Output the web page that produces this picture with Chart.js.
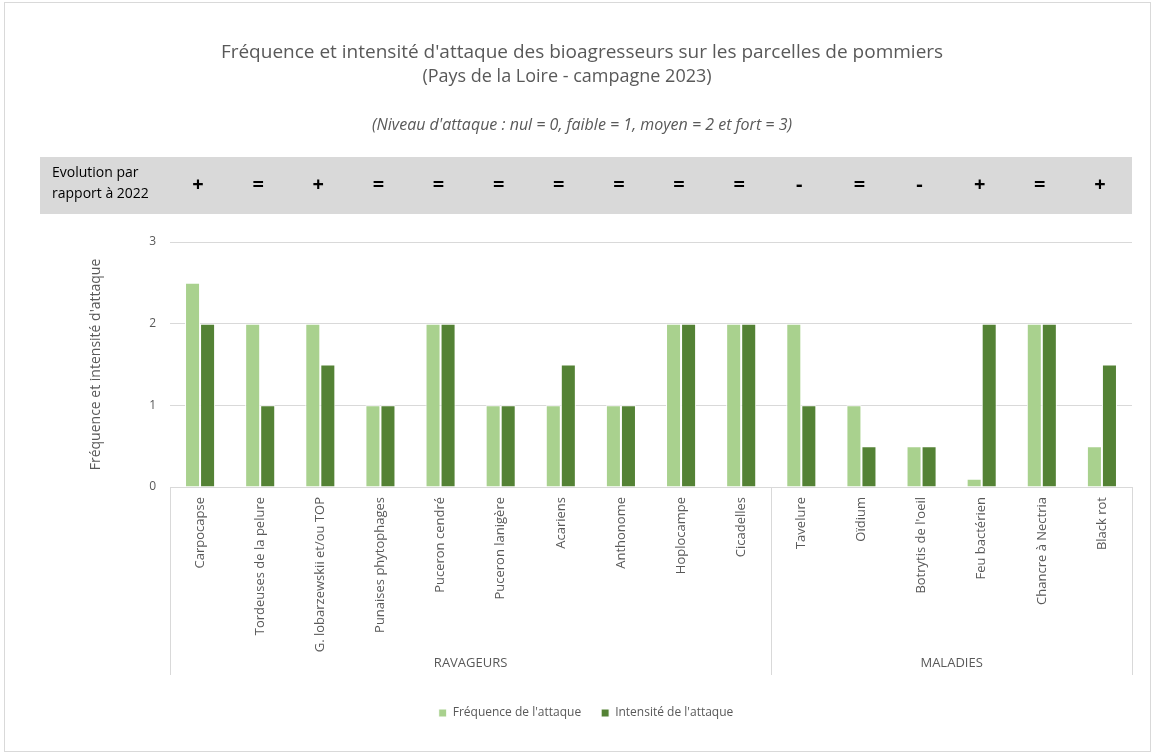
<!DOCTYPE html>
<html>
<head>
<meta charset="utf-8">
<script src="https://cdn.jsdelivr.net/npm/chart.js@4"></script>
<style>
  body { margin: 0; background: #fff; }
  #wrap { width: 1154px; height: 754px; }
</style>
</head>
<body>
<div id="wrap"><canvas id="myChart" width="1154" height="754"></canvas></div>
<script>
const categories = [
    'Carpocapse', 'Tordeuses de la pelure', 'G. lobarzewskii et/ou TOP', 'Punaises phytophages',
    'Puceron cendré', 'Puceron lanigère', 'Acariens', 'Anthonome', 'Hoplocampe', 'Cicadelles',
    'Tavelure', 'Oïdium', "Botrytis de l'oeil", 'Feu bactérien', 'Chancre à Nectria', 'Black rot'
];
const frequence = [2.5, 2, 2, 1, 2, 1, 1, 1, 2, 2, 2, 1, 0.5, 0.1, 2, 0.5];
const intensite = [2, 1, 1.5, 1, 2, 1, 1.5, 1, 2, 2, 1, 0.5, 0.5, 2, 2, 1.5];
const evolution = ['+', '=', '+', '=', '=', '=', '=', '=', '=', '=', '-', '=', '-', '+', '=', '+'];
const groups = [
    { label: 'RAVAGEURS', from: 0, to: 9 },
    { label: 'MALADIES', from: 10, to: 15 }
];
const yTicks = [0, 1, 2, 3];

const FONT = "'Open Sans', sans-serif";
const GREY_TEXT = '#595959';
const GRID = '#d9d9d9';

// titles, evolution band and group labels under the axis
const extras = {
    id: 'extras',
    beforeDraw(chart) {
        const ctx = chart.ctx;
        const x = chart.scales.x;
        const area = chart.chartArea;
        ctx.save();
        // outer border
        ctx.strokeStyle = GRID;
        ctx.lineWidth = 1;
        ctx.strokeRect(4.5, 2.5, chart.width - 8, chart.height - 5);

        ctx.fillStyle = GREY_TEXT;
        ctx.textAlign = 'center';
        ctx.textBaseline = 'middle';
        ctx.font = '19px ' + FONT;
        ctx.fillText("Fréquence et intensité d'attaque des bioagresseurs sur les parcelles de pommiers", 582, 53);
        ctx.font = '18px ' + FONT;
        ctx.fillText('(Pays de la Loire - campagne 2023)', 567, 77);
        ctx.font = 'italic 16px ' + FONT;
        ctx.fillText("(Niveau d'attaque : nul = 0, faible = 1, moyen = 2 et fort = 3)", 582, 125);

        // band
        ctx.fillStyle = '#d9d9d9';
        ctx.fillRect(40, 157, area.right - 40, 57);
        ctx.fillStyle = '#000';
        ctx.textAlign = 'left';
        ctx.font = '14px ' + FONT;
        ctx.fillText('Evolution par', 52, 173);
        ctx.fillText('rapport à 2022', 52, 194);
        ctx.textAlign = 'center';
        ctx.font = 'bold 20px ' + FONT;
        evolution.forEach((s, i) => {
            ctx.fillText(s, x.getPixelForValue(i) - 2, 185);
        });

        // group separators and labels
        const half = (x.getPixelForValue(1) - x.getPixelForValue(0)) / 2;
        const bottom = 675;
        ctx.strokeStyle = GRID;
        ctx.beginPath();
        const edges = [x.getPixelForValue(0) - half];
        groups.forEach(g => edges.push(x.getPixelForValue(g.to) + half));
        edges.forEach(e => {
            const px = Math.round(e) + 0.5;
            ctx.moveTo(px, area.bottom);
            ctx.lineTo(px, bottom);
        });
        ctx.stroke();
        ctx.fillStyle = GREY_TEXT;
        ctx.font = '13px ' + FONT;
        groups.forEach(g => {
            const cx = (x.getPixelForValue(g.from) + x.getPixelForValue(g.to)) / 2;
            ctx.fillText(g.label, cx, 663);
        });
        ctx.restore();
    }
};

const ctx = document.getElementById('myChart').getContext('2d');
const chart = new Chart(ctx, {
    type: 'bar',
    data: {
        labels: categories,
        datasets: [
            {
                label: "Fréquence de l'attaque",
                data: frequence,
                backgroundColor: '#a9d18e',
                borderColor: '#ffffff',
                borderWidth: 1
            },
            {
                label: "Intensité de l'attaque",
                data: intensite,
                backgroundColor: '#548235',
                borderColor: '#ffffff',
                borderWidth: 1
            }
        ]
    },
    options: {
        responsive: false,
        animation: false,
        categoryPercentage: 0.5,
        barPercentage: 1,
        layout: { padding: { top: 242, left: 40, right: 22, bottom: 25 } },
        font: { family: FONT },
        plugins: {
            legend: {
                position: 'bottom',
                labels: {
                    boxWidth: 8,
                    boxHeight: 8,
                    color: GREY_TEXT,
                    font: { family: FONT, size: 12 },
                    padding: 20
                }
            },
            tooltip: { enabled: false }
        },
        scales: {
            x: {
                grid: { display: false },
                border: { color: GRID },
                ticks: {
                    minRotation: 90,
                    maxRotation: 90,
                    color: GREY_TEXT,
                    font: { family: FONT, size: 13 },
                    padding: 2
                },
                afterFit(scale) { scale.height = 200; }
            },
            y: {
                min: 0,
                max: 3,
                afterBuildTicks(scale) { scale.ticks = yTicks.map(v => ({ value: v })); },
                grid: { color: GRID, drawTicks: false },
                border: { display: false },
                ticks: {
                    color: GREY_TEXT,
                    font: { family: FONT, size: 12 },
                    padding: 14
                },
                title: {
                    display: true,
                    text: "Fréquence et intensité d'attaque",
                    color: GREY_TEXT,
                    font: { family: FONT, size: 14 },
                    padding: { top: 48, bottom: 0 }
                },
                afterFit(scale) { scale.width = 130; }
            }
        }
    },
    plugins: [extras]
});
</script>
</body>
</html>
